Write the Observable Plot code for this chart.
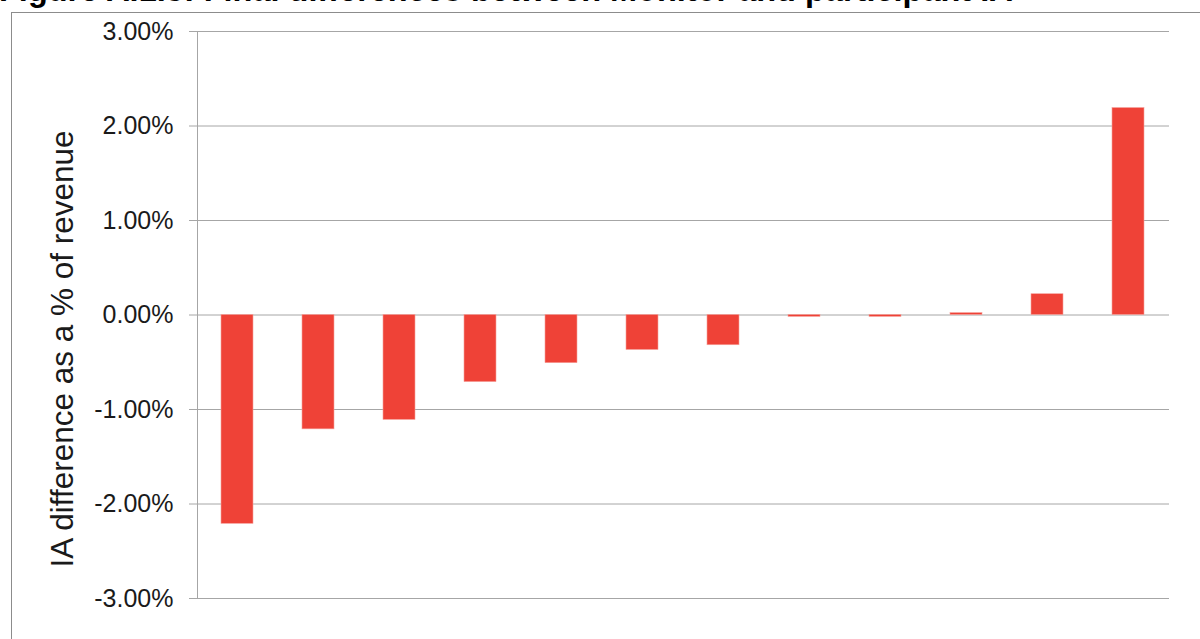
<!DOCTYPE html>
<html>
<head>
<meta charset="utf-8">
<script src="https://cdn.jsdelivr.net/npm/d3@7"></script>
<script src="https://cdn.jsdelivr.net/npm/@observablehq/plot@0.6"></script>
<style>
  html, body { margin: 0; padding: 0; background: #fff; overflow: hidden; }
  #wrap { position: relative; width: 1200px; height: 639px; overflow: hidden; }
  #title {
    position: absolute; left: -1px; top: -28px; white-space: nowrap; line-height: 36px;
    font: bold 32.5px "Liberation Sans", Arial, sans-serif; color: #000;
  }
  #box {
    position: absolute; left: 11px; top: 12px; width: 1250px; height: 700px;
    border: 1px solid #8c8c8c; box-sizing: border-box;
  }
  #chart { position: absolute; left: 0; top: 0; }
</style>
</head>
<body>
<div id="wrap">
  <div id="title">Figure A.1.3: Final differences between Monitor and participant IA</div>
  <div id="box"></div>
  <div id="chart"></div>
</div>
<script>
// Participants, ordered from largest under-estimate to largest over-estimate
const participants = ["P1", "P2", "P3", "P4", "P5", "P6", "P7", "P8", "P9", "P10", "P11", "P12"];
// IA difference as a % of revenue
const differences = [-2.21, -1.21, -1.11, -0.71, -0.51, -0.37, -0.32, -0.02, -0.02, 0.02, 0.22, 2.19];
// Y axis ticks (percent)
const yTicks = [-3, -2, -1, 0, 1, 2, 3];
const yLabel = "IA difference as a % of revenue";

const data = participants.map((p, i) => ({participant: p, value: differences[i]}));
const fmt = d => d.toFixed(2) + "%";
const gridColor = "#a6a6a6";

const chart = Plot.plot({
  width: 1200,
  height: 639,
  marginTop: 31,
  marginBottom: 41,
  marginLeft: 197,
  marginRight: 31,
  style: {fontFamily: "'Liberation Sans', Arial, sans-serif", background: "transparent"},
  x: {domain: participants, paddingInner: 0.6, paddingOuter: 0.3, axis: null},
  y: {domain: [-3, 3]},
  marks: [
    Plot.ruleY(yTicks, {stroke: gridColor, strokeWidth: 1}),
    Plot.frame({anchor: "left", stroke: gridColor, strokeWidth: 1}),
    Plot.axisY({
      ticks: yTicks, tickFormat: fmt, tickSize: 8, tickPadding: 16,
      stroke: gridColor, fontSize: 25, fill: "#1a1a1a", label: null
    }),
    Plot.barY(data, {x: "participant", y: "value", fill: "#ef4237", stroke: "#f6a09a", strokeWidth: 0.6}),
    Plot.text([yLabel], {
      text: d => d, frameAnchor: "left", rotate: -90, dx: -135, dy: 34,
      fontSize: 31.5, fill: "#1a1a1a", textAnchor: "middle", lineAnchor: "middle"
    })
  ]
});
document.getElementById("chart").appendChild(chart);
</script>
</body>
</html>
